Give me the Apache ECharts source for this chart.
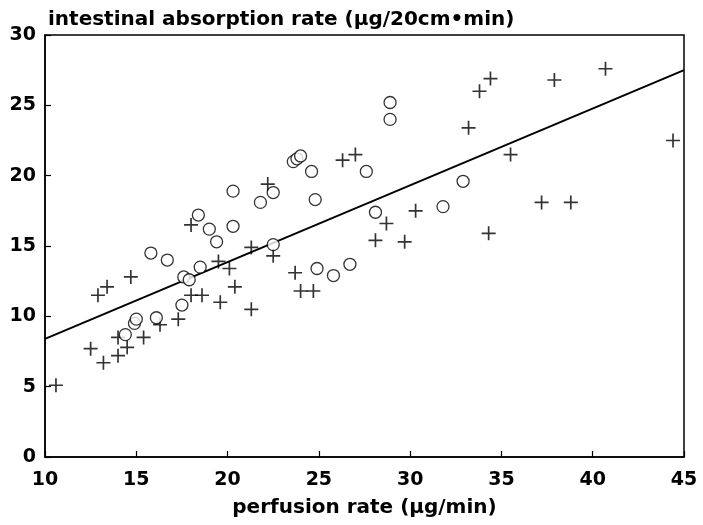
<!DOCTYPE html>
<html>
<head>
<meta charset="utf-8">
<script src="https://cdn.jsdelivr.net/npm/echarts@6/dist/echarts.min.js"></script>
<style>
  html, body { margin: 0; padding: 0; background: #fff; }
  #chart { width: 703px; height: 525px; }
</style>
</head>
<body>
<div id="chart"></div>
<script>
"use strict";

// ── Datos ──────────────────────────────────────────────────────────────────
// cruces (+)
const plusX = [10.6, 12.5, 13.2, 14.0, 14.5, 14.0, 15.4, 12.9, 13.4, 14.7,
               16.3, 17.3, 18.0, 18.6, 19.6, 20.4, 21.3, 19.5, 20.1, 21.3,
               18.0, 22.2, 22.5, 23.7, 24.0, 24.7, 26.3, 27.0, 28.7, 28.1,
               30.3, 29.7, 34.4, 33.8, 37.9, 40.7, 33.2, 44.4, 35.5, 37.2,
               38.8, 34.3];
const plusY = [5.1, 7.7, 6.7, 7.2, 7.8, 8.5, 8.5, 11.5, 12.1, 12.8,
               9.4, 9.8, 11.5, 11.5, 11.0, 12.1, 10.5, 13.9, 13.4, 14.9,
               16.5, 19.4, 14.3, 13.1, 11.8, 11.8, 21.1, 21.5, 16.6, 15.4,
               17.5, 15.3, 26.9, 26.0, 26.8, 27.6, 23.4, 22.5, 21.5, 18.1,
               18.1, 15.9];

// círculos (o)
const circX = [14.4, 14.9, 15.0, 16.1, 17.5, 17.6, 17.9, 18.5, 15.8, 16.7,
               19.0, 19.4, 20.3, 18.4, 20.3, 21.8, 22.5, 23.6, 23.8, 24.0,
               24.6, 27.6, 24.8, 22.5, 24.9, 25.8, 26.7, 28.9, 28.9, 28.1,
               31.8, 32.9];
const circY = [8.7, 9.5, 9.8, 9.9, 10.8, 12.8, 12.6, 13.5, 14.5, 14.0,
               16.2, 15.3, 16.4, 17.2, 18.9, 18.1, 18.8, 21.0, 21.2, 21.4,
               20.3, 20.3, 18.3, 15.1, 13.4, 12.9, 13.7, 25.2, 24.0, 17.4,
               17.8, 19.6];

// recta de regresión
const lineX = [10, 45];
const lineY = [8.4, 27.5];

const xTicks = { min: 10, max: 45, step: 5 };
const yTicks = { min: 0, max: 30, step: 5 };

// ── Estilos ────────────────────────────────────────────────────────────────
const FONT = "'DejaVu Sans', Verdana, sans-serif";
const PLUS = "path://M0,5L10,5M5,0L5,10";

function pairs(xs, ys) {
  return xs.map((x, i) => [x, ys[i]]);
}

const chart = echarts.init(document.getElementById("chart"), null, { renderer: "canvas" });

chart.setOption({
  animation: false,
  title: {
    text: "intestinal absorption rate (µg/20cm•min)",
    left: 43, top: 5,
    textStyle: { fontFamily: FONT, fontSize: 20, fontWeight: "bold", color: "#000" },
  },
  grid: {
    left: 45, right: 19, top: 35, bottom: 68,
    show: true, borderColor: "#000", borderWidth: 1.5,
  },
  xAxis: {
    type: "value",
    min: xTicks.min, max: xTicks.max, interval: xTicks.step,
    name: "perfusion rate (µg/min)",
    nameLocation: "middle", nameGap: 41,
    nameTextStyle: { fontFamily: FONT, fontSize: 20, fontWeight: "bold", color: "#000" },
    axisLine: { lineStyle: { color: "#000", width: 1.5 } },
    axisTick: { inside: true, length: 6, lineStyle: { color: "#000", width: 1.2 } },
    axisLabel: { fontFamily: FONT, fontSize: 19, fontWeight: "bold", color: "#000", margin: 14 },
    splitLine: { show: false },
  },
  yAxis: {
    type: "value",
    min: yTicks.min, max: yTicks.max, interval: yTicks.step,
    axisLine: { show: true, lineStyle: { color: "#000", width: 1.5 } },
    axisTick: { show: true, inside: true, length: 6, lineStyle: { color: "#000", width: 1.2 } },
    axisLabel: { fontFamily: FONT, fontSize: 19, fontWeight: "bold", color: "#000", margin: 9 },
    splitLine: { show: false },
  },
  series: [
    {
      type: "line",
      data: pairs(lineX, lineY),
      symbol: "none",
      lineStyle: { color: "#000", width: 2 },
      z: 1,
    },
    {
      type: "scatter",
      data: pairs(plusX, plusY),
      symbol: PLUS, symbolSize: 14,
      itemStyle: { color: "transparent", borderColor: "#000", borderWidth: 1.7 },
      z: 2,
    },
    {
      type: "scatter",
      data: pairs(circX, circY),
      symbol: "circle", symbolSize: 12,
      itemStyle: { color: "#fff", borderColor: "#000", borderWidth: 1.3 },
      z: 3,
    },
  ],
});
</script>
</body>
</html>
